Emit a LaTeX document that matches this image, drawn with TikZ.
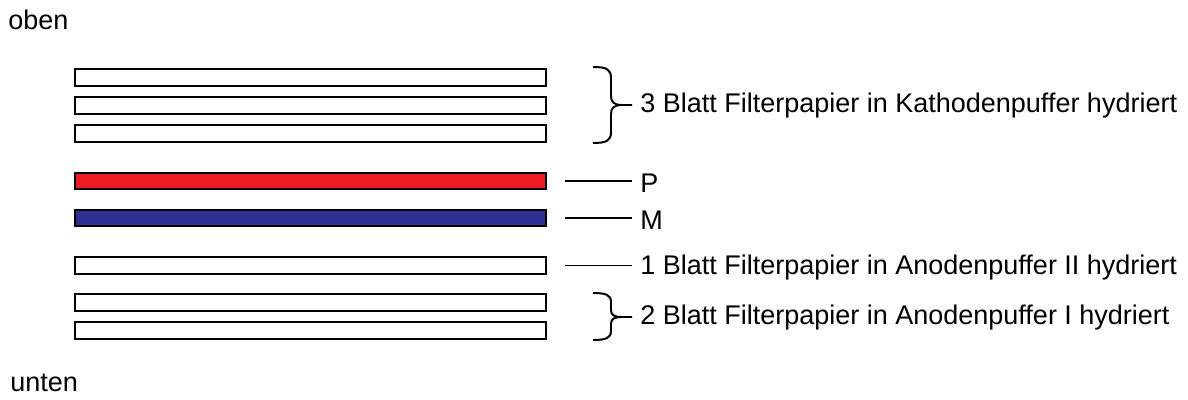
\documentclass[tikz,border=0pt]{standalone}
\usepackage{fontspec}
\setmainfont{Liberation Sans}

\definecolor{protred}{RGB}{237,28,36}
\definecolor{membblue}{RGB}{46,49,146}

\begin{document}
\begin{tikzpicture}[x=0.025cm,y=-0.025cm]
    \tikzstyle{sheet}=[rectangle,draw=black,line width=1.3pt,fill=white,inner sep=0pt,minimum width=11.775cm,minimum height=0.42cm]
    \tikzstyle{lbl}=[anchor=west,inner sep=0pt,font=\fontsize{19.2}{23}\selectfont]
    \tikzstyle{curly}=[line width=1.4pt]
    \useasboundingbox (0,0) rectangle (1188,400);

    \node (oben)[lbl] at (8,20) {oben};
    \node (unten)[lbl] at (10,383) {unten};

    % Kathodenseite
    \node (k1)[sheet] at (310.5,77.5) {};
    \node (k2)[sheet] at (310.5,105.5) {};
    \node (k3)[sheet] at (310.5,133.5) {};

    \node (p)[sheet,fill=protred] at (310.5,181) {};
    \node (m)[sheet,fill=membblue] at (310.5,218) {};

    % Anodenseite
    \node (a2)[sheet] at (310.5,265.5) {};
    \node (a1)[sheet] at (310.5,302.5) {};
    \node (a0)[sheet] at (310.5,330.5) {};

    \node (lk)[lbl] at (640,106) {3 Blatt Filterpapier in Kathodenpuffer hydriert};
    \node (lp)[lbl] at (640,183) {P};
    \node (lm)[lbl] at (640,220) {M};
    \node (la2)[lbl] at (640,268) {1 Blatt Filterpapier in Anodenpuffer II hydriert};
    \node (la1)[lbl] at (640,318) {2 Blatt Filterpapier in Anodenpuffer I hydriert};

    % Klammern
    \draw[curly] (593,67) .. controls (606,67) and (611,69) .. (611,78) -- (611,96)
        .. controls (611,102) and (614,105) .. (622,105) -- (632,105);
    \draw[curly] (593,143) .. controls (606,143) and (611,141) .. (611,132) -- (611,114)
        .. controls (611,108) and (614,105) .. (622,105);
    \draw[curly] (593,293) .. controls (606,293) and (611,295) .. (611,302) -- (611,310)
        .. controls (611,315) and (614,317) .. (622,317) -- (632,317);
    \draw[curly] (593,340) .. controls (606,340) and (611,338) .. (611,331) -- (611,324)
        .. controls (611,319) and (614,317) .. (622,317);

    \draw[line width=1.1pt] ([xshift=0.45cm]p.east) -- ([xshift=-0.2cm]p.east -| lp.west);
    \draw[line width=1.1pt] ([xshift=0.45cm]m.east) -- ([xshift=-0.2cm]m.east -| lm.west);
    \draw[line width=1.1pt] ([xshift=0.45cm]a2.east) -- ([xshift=-0.2cm]a2.east -| la2.west);
\end{tikzpicture}
\end{document}
